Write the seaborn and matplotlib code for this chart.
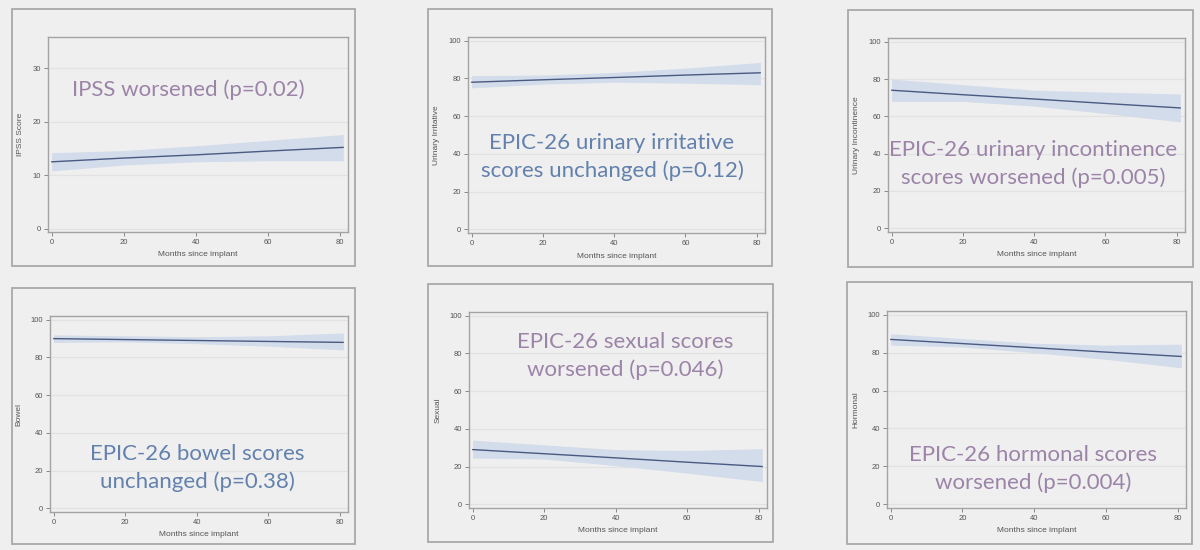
import numpy as np
import pandas as pd
import matplotlib
matplotlib.use("Agg")
import matplotlib.pyplot as plt
from matplotlib.patches import Rectangle
import seaborn as sns

# ---------------- data ----------------
months = [0, 20, 40, 60, 81]

ipss_mean  = [12.5, 13.2, 13.8, 14.5, 15.2]
ipss_lower = [10.8, 11.9, 12.5, 12.7, 12.7]
ipss_upper = [14.2, 14.6, 15.5, 16.5, 17.6]

irr_mean  = [78.0, 79.3, 80.5, 81.8, 83.0]
irr_lower = [75.0, 77.0, 78.0, 77.5, 76.7]
irr_upper = [81.5, 81.8, 83.2, 85.5, 88.5]

inc_mean  = [74.0, 71.6, 69.3, 66.9, 64.5]
inc_lower = [68.0, 68.0, 65.5, 61.5, 57.0]
inc_upper = [80.0, 77.0, 74.0, 73.0, 72.0]

bowel_mean  = [90.0, 89.5, 89.0, 88.5, 88.0]
bowel_lower = [88.0, 88.3, 87.3, 86.0, 84.0]
bowel_upper = [92.0, 91.5, 91.0, 91.5, 93.0]

sex_mean  = [29.0, 26.8, 24.6, 22.3, 20.0]
sex_lower = [24.5, 24.0, 20.5, 16.5, 12.0]
sex_upper = [34.0, 31.5, 29.0, 28.5, 29.5]

horm_mean  = [87.0, 84.8, 82.6, 80.3, 78.0]
horm_lower = [84.0, 83.0, 80.0, 76.5, 72.0]
horm_upper = [90.0, 87.5, 85.0, 84.0, 84.5]

y_labels = ["IPSS Score", "Urinary Irritative", "Urinary Incontinence",
            "Bowel", "Sexual", "Hormonal"]
x_label = "Months since implant"
x_ticks = [0, 20, 40, 60, 80]
ipss_ticks = [0, 10, 20, 30]
epic_ticks = [0, 20, 40, 60, 80, 100]

notes = ["IPSS worsened (p=0.02)",
         "EPIC-26 urinary irritative\nscores unchanged (p=0.12)",
         "EPIC-26 urinary incontinence\nscores worsened (p=0.005)",
         "EPIC-26 bowel scores\nunchanged (p=0.38)",
         "EPIC-26 sexual scores\nworsened (p=0.046)",
         "EPIC-26 hormonal scores\nworsened (p=0.004)"]
note_kind = ["worse", "same", "worse", "same", "worse", "worse"]

series = [(ipss_mean, ipss_lower, ipss_upper),
          (irr_mean, irr_lower, irr_upper),
          (inc_mean, inc_lower, inc_upper),
          (bowel_mean, bowel_lower, bowel_upper),
          (sex_mean, sex_lower, sex_upper),
          (horm_mean, horm_lower, horm_upper)]

# ---------------- style ----------------
sns.set_theme(style="white")
BG = "#efefef"
plt.rcParams["font.family"] = ["Liberation Sans", "DejaVu Sans"]
plt.rcParams["figure.facecolor"] = BG
plt.rcParams["axes.facecolor"] = BG

LINE_C = "#4a5a82"
BAND_C = "#d3dcea"
TEXT_C = {"worse": "#9c84a8", "same": "#6381ad"}
SPINE_C = "#a3a3a3"
TICK_C = "#555555"

W, H = 1200, 550
fig = plt.figure(figsize=(12, 5.5), dpi=100)

def fx(px):
    return px / W

def fy(py):
    return 1 - py / H

# axes boxes in pixels: left, top, right, bottom
ax_boxes = [(48, 37, 348, 232), (468, 37, 765, 233), (888, 38, 1185, 232),
            (50, 316, 348, 512), (469, 312, 767, 508), (887, 311, 1186, 508)]
outer_boxes = [(12, 9, 355, 266), (428, 9, 772, 266), (848, 10, 1193, 267),
               (12, 288, 355, 544), (428, 284, 773, 542), (847, 282, 1192, 544)]
note_pos = [(188, 90), (612, 157), (1033, 164), (197, 468), (625, 356), (1033, 469)]

for (l, t, r, b) in outer_boxes:
    fig.patches.append(Rectangle((fx(l), fy(b)), fx(r - l), (b - t) / H,
                                 transform=fig.transFigure, fill=False,
                                 edgecolor="#a9a9a9", linewidth=1.3, zorder=0))

for i, ((l, t, r, b), (m, lo, hi)) in enumerate(zip(ax_boxes, series)):
    ax = fig.add_axes([fx(l), fy(b), fx(r - l), (b - t) / H])
    ax.set_facecolor(BG)
    df = pd.DataFrame({"month": months, "mean": m, "lower": lo, "upper": hi})
    ax.fill_between(df["month"], df["lower"], df["upper"], color=BAND_C,
                    linewidth=0, zorder=2)
    sns.lineplot(data=df, x="month", y="mean", ax=ax, color=LINE_C,
                 linewidth=1.0, zorder=3)
    ax.set_xlim(-1, 82.3)
    if i == 0:
        ax.set_ylim(-0.6, 35.8)
        ax.set_yticks(ipss_ticks)
    else:
        ax.set_ylim(-2, 102)
        ax.set_yticks(epic_ticks)
    ax.set_xticks(x_ticks)
    ax.grid(axis="y", color="#e2e2e2", linewidth=0.9, zorder=1)
    ax.grid(axis="x", visible=False)
    ax.set_axisbelow(True)
    for s in ax.spines.values():
        s.set_color(SPINE_C)
        s.set_linewidth(1.0)
        s.set_visible(True)
    ax.tick_params(axis="both", which="both", direction="out", length=3,
                   width=0.7, color="#888888", labelsize=5.5,
                   labelcolor=TICK_C, pad=2, left=True, bottom=True)
    ax.set_xlabel(x_label, fontsize=6, color=TICK_C, labelpad=4)
    ax.set_ylabel(y_labels[i], fontsize=6, color=TICK_C, labelpad=6)
    nx, ny = note_pos[i]
    fig.text(fx(nx), fy(ny), notes[i], ha="center", va="center",
             fontsize=16, color=TEXT_C[note_kind[i]], family=["Lato", "DejaVu Sans"],
             linespacing=1.42, zorder=5)

fig.savefig("out.png", dpi=100, facecolor=BG)
